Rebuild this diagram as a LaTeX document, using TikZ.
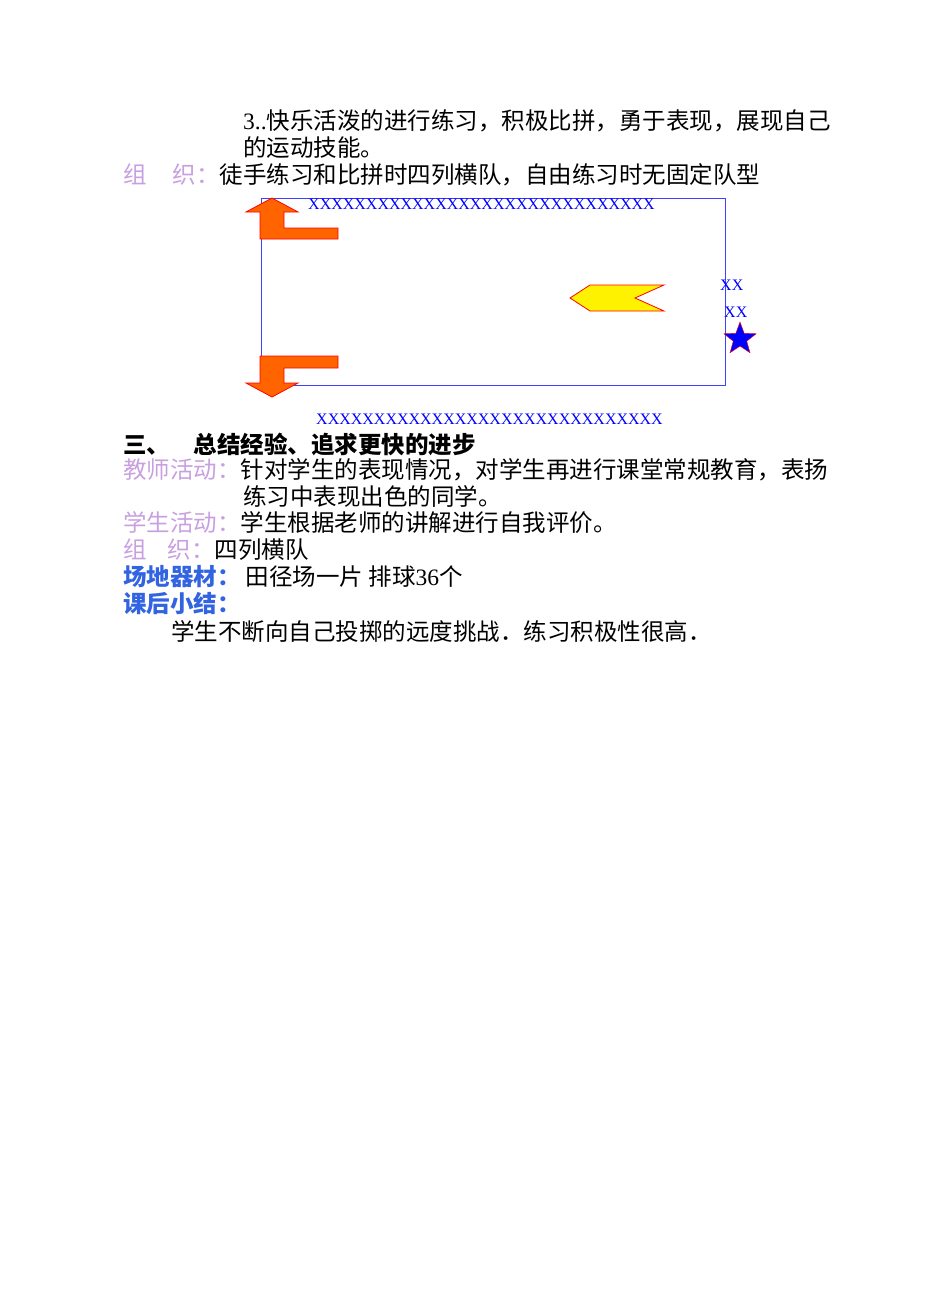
\documentclass[tikz,border=0pt]{standalone}
\usepackage{fontspec}
\setmainfont{Liberation Serif}
\newfontfamily\cjk{Noto Sans CJK SC}
\usetikzlibrary{shapes}
\definecolor{lav}{RGB}{200,160,225}
\definecolor{hblue}{RGB}{50,100,225}
\definecolor{arrorange}{RGB}{255,100,0}
\tikzset{
  txt/.style={anchor=west, inner sep=0pt, font=\cjk\fontsize{23.5}{27}\selectfont},
  xrow/.style={anchor=west, inner sep=0pt, text=blue, font=\fontsize{16}{19}\selectfont},
  turn/.style={draw=red, fill=arrorange, line width=0.8pt},
}
\begin{document}
\begin{tikzpicture}[x=1pt, y=-1pt]
\useasboundingbox (0,0) rectangle (950,1316);
\node[txt] (l1) at (243,121) {{\rmfamily 3..}快乐活泼的进行练习，积极比拼，勇于表现，展现自己};
\node[txt] (l2) at (243,148) {的运动技能。};
\node[txt] (l3) at (123,175) {\textcolor{lav}{组\hspace{1.1em}织：}徒手练习和比拼时四列横队，自由练习时无固定队型};
% field
\node[draw=blue!75, line width=1.2pt, minimum width=464pt, minimum height=187pt, anchor=north west] (field) at (261,198) {};
\node[xrow] (top) at (308,204) {XXXXXXXXXXXXXXXXXXXXXXXXXXXXXX};
\node[xrow] (bot) at (316,419) {XXXXXXXXXXXXXXXXXXXXXXXXXXXXXX};
\node[xrow] (xa) at (720,285) {XX};
\node[xrow] (xb) at (724,312) {XX};
\node[star, star points=5, star point ratio=2.4, draw=red, fill=blue, minimum size=34pt, inner sep=0pt] (flag) at (740,339) {};
\draw[turn] (272,198) -- (298,212) -- (284,212) -- (284,228) -- (338,228) -- (338,239)
  -- (260,239) -- (260,212) -- (246,212) -- cycle;
\draw[turn] (272,397) -- (298,383) -- (284,383) -- (284,368) -- (338,368) -- (338,356)
  -- (260,356) -- (260,383) -- (246,383) -- cycle;
\draw[draw=red, fill=yellow, line width=0.8pt] (570,298) -- (590,285) -- (664,285) -- (635,298)
  -- (664,311) -- (590,311) -- cycle;
% section three
\node[txt] (h3) at (123,444) {\bfseries 三、\quad 总结经验、追求更快的进步};
\node[txt] (t1) at (123,470) {\textcolor{lav}{教师活动：}针对学生的表现情况，对学生再进行课堂常规教育，表扬};
\node[txt] (t2) at (243,496) {练习中表现出色的同学。};
\node[txt] (t3) at (123,523) {\textcolor{lav}{学生活动：}学生根据老师的讲解进行自我评价。};
\node[txt] (t4) at (123,550) {\textcolor{lav}{组\hspace{0.9em}织：}四列横队};
\node[txt] (t5) at (123,577) {\textcolor{hblue}{\bfseries 场地器材：} 田径场一片 排球{\rmfamily 36}个};
\node[txt] (t6) at (123,604) {\textcolor{hblue}{\bfseries 课后小结：}};
\node[txt] (t7) at (171,632) {学生不断向自己投掷的远度挑战．练习积极性很高．};
\end{tikzpicture}
\end{document}
